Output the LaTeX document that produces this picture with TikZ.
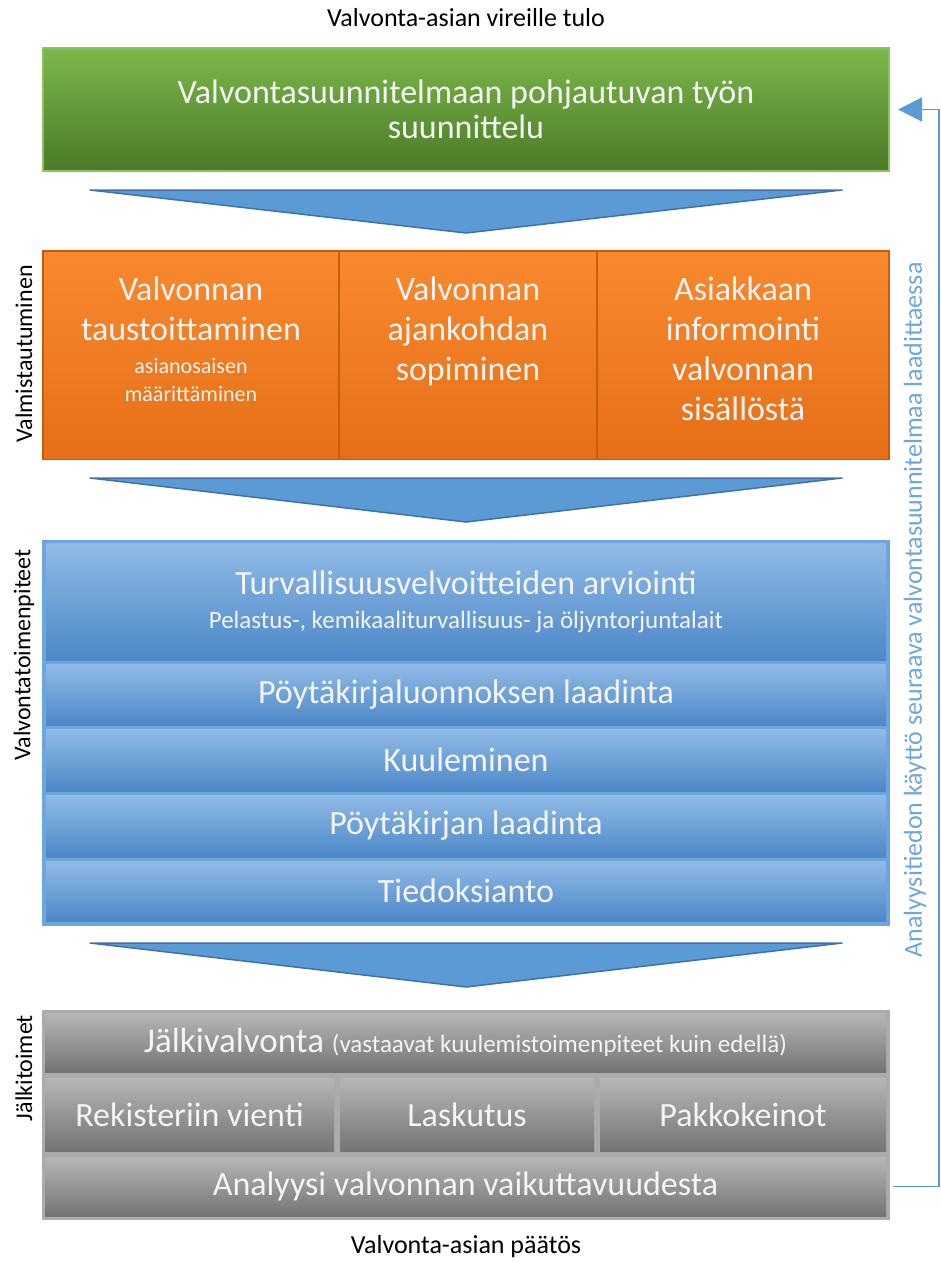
\documentclass[tikz,border=0pt]{standalone}
\usepackage{fontspec}
\setmainfont{Carlito}
\usetikzlibrary{arrows.meta}
\usetikzlibrary{positioning}

\definecolor{greentop}{HTML}{7CB84B}
\definecolor{greenbot}{HTML}{4B7A27}
\definecolor{greenline}{HTML}{8DC263}
\definecolor{orangetop}{HTML}{F8892F}
\definecolor{orangebot}{HTML}{E66F16}
\definecolor{orangeline}{HTML}{C65B10}
\definecolor{bluetop}{HTML}{91BBE6}
\definecolor{bluebot}{HTML}{4C87C8}
\definecolor{blueline}{HTML}{6DA5DD}
\definecolor{graytop}{HTML}{B6B6B6}
\definecolor{graybot}{HTML}{747474}
\definecolor{grayline}{HTML}{ABABAB}
\definecolor{chevfill}{HTML}{5B9BD5}
\definecolor{chevline}{HTML}{3F73A8}
\definecolor{sideblue}{HTML}{6FA6DB}
\definecolor{boxtext}{HTML}{F4F4F4}

\begin{document}
\begin{tikzpicture}[x=1pt, y=-1pt,
    cell/.style={rectangle, inner sep=0pt, align=center, text=boxtext},
    big/.style={font=\fontsize{34}{40}\selectfont},
    small/.style={font=\fontsize{22}{28}\selectfont},
    caption/.style={font=\fontsize{26}{30}\selectfont, inner sep=0pt},
    phase/.style={font=\fontsize{24}{28}\selectfont, inner sep=0pt, rotate=90},
    greencell/.style={cell, top color=greentop, bottom color=greenbot, draw=greenline, line width=2pt},
    orangecell/.style={cell, top color=orangetop, bottom color=orangebot},
    bluecell/.style={cell, top color=bluetop, bottom color=bluebot},
    graycell/.style={cell, top color=graytop, bottom color=graybot},
    chevron/.style={fill=chevfill, draw=chevline, line width=1.5pt, line join=round},
    feedback/.style={draw=chevfill, line width=1.5pt}]

  \useasboundingbox (0,0) rectangle (941,1262);

  \node[caption] (start) at (466,18) {Valvonta-asian vireille tulo};
  \node[caption] (end) at (466,1247) {Valvonta-asian päätös};

  % planning
  \node[greencell, big, minimum width=846, minimum height=123] (plan) at (466,109.5)
    {Valvontasuunnitelmaan pohjautuvan työn\\[-5pt]suunnittelu};

  \draw[chevron] (90,190) -- (842,190) -- (466,233) -- cycle;

  % preparation
  \node[rectangle, fill=orangeline, minimum width=848, minimum height=210] (prep) at (466,355) {};
  \node[orangecell, minimum width=294, minimum height=206] (prep1) at (191,355) {};
  \node[orangecell, minimum width=256, minimum height=206] (prep2) at (468,355) {};
  \node[orangecell, minimum width=290, minimum height=206] (prep3) at (743,355) {};
  \node[cell, big, below=25pt of prep1.north] (prep1txt) {Valvonnan\\taustoittaminen};
  \node[cell, small, below=17pt of prep1txt] (prep1sub) {asianosaisen\\määrittäminen};
  \node[cell, big, below=25pt of prep2.north] (prep2txt) {Valvonnan\\ajankohdan\\sopiminen};
  \node[cell, big, below=25pt of prep3.north] (prep3txt) {Asiakkaan\\informointi\\valvonnan\\sisällöstä};

  \draw[chevron] (90,478) -- (842,478) -- (466,522) -- cycle;

  % inspection
  \node[rectangle, fill=blueline, minimum width=848, minimum height=386] (act) at (466,732.5) {};
  \node[bluecell, big, minimum width=840, minimum height=117] (act1) at (466,601.5)
    {Turvallisuusvelvoitteiden arviointi\\[-6pt]{\fontsize{25}{28}\selectfont Pelastus-, kemikaaliturvallisuus- ja öljyntorjuntalait}};
  \node[bluecell, big, minimum width=840, minimum height=61] (act2) at (466,694.5) {Pöytäkirjaluonnoksen laadinta};
  \node[bluecell, big, minimum width=840, minimum height=62] (act3) at (466,760) {Kuuleminen};
  \node[bluecell, big, minimum width=840, minimum height=62] (act4) at (466,826) {Pöytäkirjan laadinta};
  \node[bluecell, big, minimum width=840, minimum height=60] (act5) at (466,891) {Tiedoksianto};

  \draw[chevron] (90,943) -- (842,943) -- (466,987) -- cycle;

  % follow-up
  \node[rectangle, fill=grayline, minimum width=848, minimum height=210] (post) at (466,1115) {};
  \node[graycell, font=\fontsize{35}{40}\selectfont, minimum width=841, minimum height=59] (post1) at (465.5,1042.5)
    {Jälkivalvonta {\fontsize{25}{28}\selectfont(vastaavat kuulemistoimenpiteet kuin edellä)}};
  \node[graycell, big, minimum width=289, minimum height=73] (post2) at (189.5,1114.5) {Rekisteriin vienti};
  \node[graycell, big, minimum width=254, minimum height=73] (post3) at (467,1114.5) {Laskutus};
  \node[graycell, big, minimum width=286, minimum height=73] (post4) at (743,1114.5) {Pakkokeinot};
  \node[graycell, big, minimum width=841, minimum height=59] (post5) at (465.5,1186.5) {Analyysi valvonnan vaikuttavuudesta};

  % phase labels
  \node[phase] (prepname) at (24,354) {Valmistautuminen};
  \node[phase] (actname) at (24,655) {Valvontatoimenpiteet};
  \node[phase] (postname) at (24,1068) {Jälkitoimet};
  \node[phase, font=\fontsize{26}{30}\selectfont, text=sideblue] (loopname) at (915,610)
    {Analyysitiedon käyttö seuraava valvontasuunnitelmaa laadittaessa};

  % feedback loop
  \coordinate (rail) at (939,0);
  \draw[feedback, -{Triangle[length=24pt, width=24pt]}]
    ([xshift=7pt]post5.east) -- (rail |- post5.east) -- (rail |- plan.east) -- ([xshift=8pt]plan.east);
\end{tikzpicture}
\end{document}
